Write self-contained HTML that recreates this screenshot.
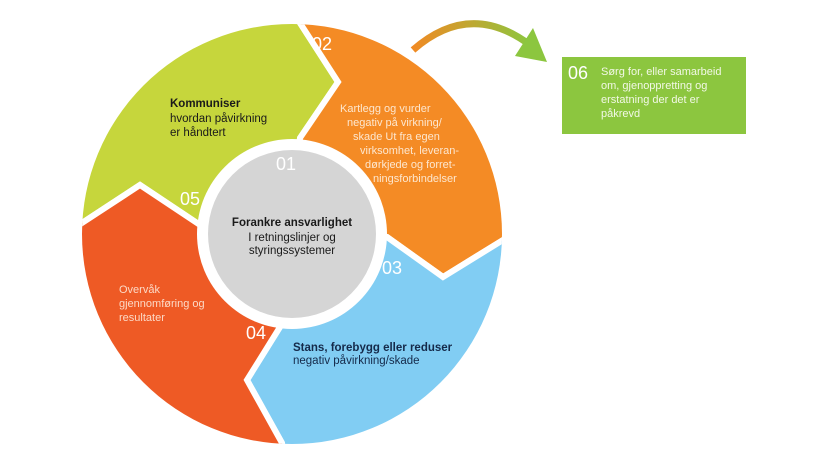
<!DOCTYPE html>
<html><head><meta charset="utf-8"><style>
html,body{margin:0;padding:0;background:#fff;width:831px;height:467px;overflow:hidden}
svg{display:block}
text{font-family:"Liberation Sans",sans-serif}
</style></head><body>
<svg width="831" height="467" viewBox="0 0 831 467" xmlns="http://www.w3.org/2000/svg">
<defs>
<clipPath id="c"><circle cx="292" cy="234" r="210"/></clipPath>
<linearGradient id="g" x1="0" x2="1" y1="0" y2="0"><stop offset="0" stop-color="#f08a24"/><stop offset="1" stop-color="#8cc63f"/></linearGradient>
</defs>
<g clip-path="url(#c)" stroke="#fff" stroke-width="6" stroke-linejoin="miter">
<polygon fill="#c6d63c" points="292,234 203,227 140,185 82,223 40,250 -20,250 -20,-20 287,-20 287,3 300,23 338,82 300,138"/>
<polygon fill="#f48b25" points="292,234 300,138 338,82 300,23 287,3 287,-20 620,-20 620,180 560,205 503,240 443,277 387,237"/>
<polygon fill="#81cdf3" points="292,234 387,237 443,277 503,240 560,205 620,180 620,620 300,620 282,443 247,380 280,327"/>
<polygon fill="#ee5a25" points="292,234 280,327 247,380 282,443 300,620 -20,620 -20,250 40,250 82,223 140,185 203,227"/>
</g>
<circle cx="292" cy="234" r="95" fill="#fff"/>
<circle cx="292" cy="234" r="84" fill="#d5d5d5"/>
<g fill="#fff" font-size="18">
<text x="312" y="50">02</text>
<text x="276" y="170">01</text>
<text x="180" y="205">05</text>
<text x="382" y="274">03</text>
<text x="246" y="339">04</text>
</g>
<g font-size="11.5" fill="#1a1a1a">
<text x="170" y="107" font-weight="bold">Kommuniser</text>
<text x="170" y="122">hvordan påvirkning</text>
<text x="170" y="136">er håndtert</text>
</g>
<g font-size="11" fill="#fde7cf">
<text x="340" y="112">Kartlegg og vurder</text>
<text x="347" y="126">negativ på virkning/</text>
<text x="353" y="140">skade Ut fra egen</text>
<text x="360" y="154">virksomhet, leveran-</text>
<text x="365" y="168">dørkjede og forret-</text>
<text x="373" y="182">ningsforbindelser</text>
</g>
<g font-size="11.5" fill="#1a1a1a" text-anchor="middle">
<text x="292" y="226" font-weight="bold">Forankre ansvarlighet</text>
<text x="292" y="241">I retningslinjer og</text>
<text x="292" y="254">styringssystemer</text>
</g>
<g font-size="11" fill="#fcd9c6">
<text x="119" y="293">Overvåk</text>
<text x="119" y="307">gjennomføring og</text>
<text x="119" y="321">resultater</text>
</g>
<g font-size="11.5" fill="#152a4a" font-weight="bold">
<text x="293" y="351">Stans, forebygg eller reduser</text>
<text x="293" y="364" font-weight="normal">negativ påvirkning/skade</text>
</g>
<path d="M413,50 Q470,0 530,45" fill="none" stroke="url(#g)" stroke-width="7"/>
<polygon points="547,62 533,28 515,56" fill="#8cc63f"/>
<rect x="562" y="57" width="184" height="77" fill="#8cc63f"/>
<text x="568" y="79" font-size="18" fill="#fff">06</text>
<g font-size="11" fill="#f2f8e6">
<text x="601" y="75">Sørg for, eller samarbeid</text>
<text x="601" y="89">om, gjenoppretting og</text>
<text x="601" y="103">erstatning der det er</text>
<text x="601" y="117">påkrevd</text>
</g>
</svg>
</body></html>
